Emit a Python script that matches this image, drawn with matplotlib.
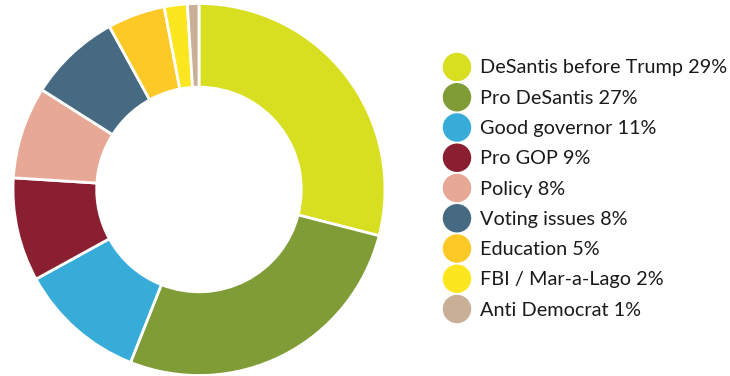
import matplotlib
matplotlib.use("Agg")
import matplotlib.pyplot as plt

labels = [
    "DeSantis before Trump",
    "Pro DeSantis",
    "Good governor",
    "Pro GOP",
    "Policy",
    "Voting issues",
    "Education",
    "FBI / Mar-a-Lago",
    "Anti Democrat",
]
shares = [29, 27, 11, 9, 8, 8, 5, 2, 1]
colors = [
    "#d8df21", "#809c37", "#37acd9", "#8a1f31", "#e7a995",
    "#466a81", "#fdc926", "#fbe620", "#c8af95",
]

W, H = 730, 376
fig = plt.figure(figsize=(W / 100, H / 100), dpi=100)

# donut, centred at (199, 189.5) px with outer radius 186 px
cx, cy, r = 199, 189.5, 186
ax = fig.add_axes([(cx - r) / W, (H - cy - r) / H, 2 * r / W, 2 * r / H])
ax.pie(
    shares,
    colors=colors,
    startangle=90,
    counterclock=False,
    radius=1.0,
    wedgeprops=dict(width=0.45, edgecolor="white", linewidth=2),
)
ax.set_xlim(-1, 1)
ax.set_ylim(-1, 1)
ax.set_aspect("equal")
ax.axis("off")

# legend drawn by hand: dot + label per row
lax = fig.add_axes([0, 0, 1, 1])
lax.set_xlim(0, W)
lax.set_ylim(H, 0)
lax.axis("off")
y0, dy = 67, 30.25
for i, (lab, val, col) in enumerate(zip(labels, shares, colors)):
    y = y0 + i * dy
    lax.scatter([457], [y], s=420, color=col, edgecolors="none")
    lax.text(480, y + 1, f"{lab} {val}%", fontsize=14.3, family="Lato",
             color="#1a1a1a", va="center", ha="left")

fig.savefig("out.png", dpi=100)
